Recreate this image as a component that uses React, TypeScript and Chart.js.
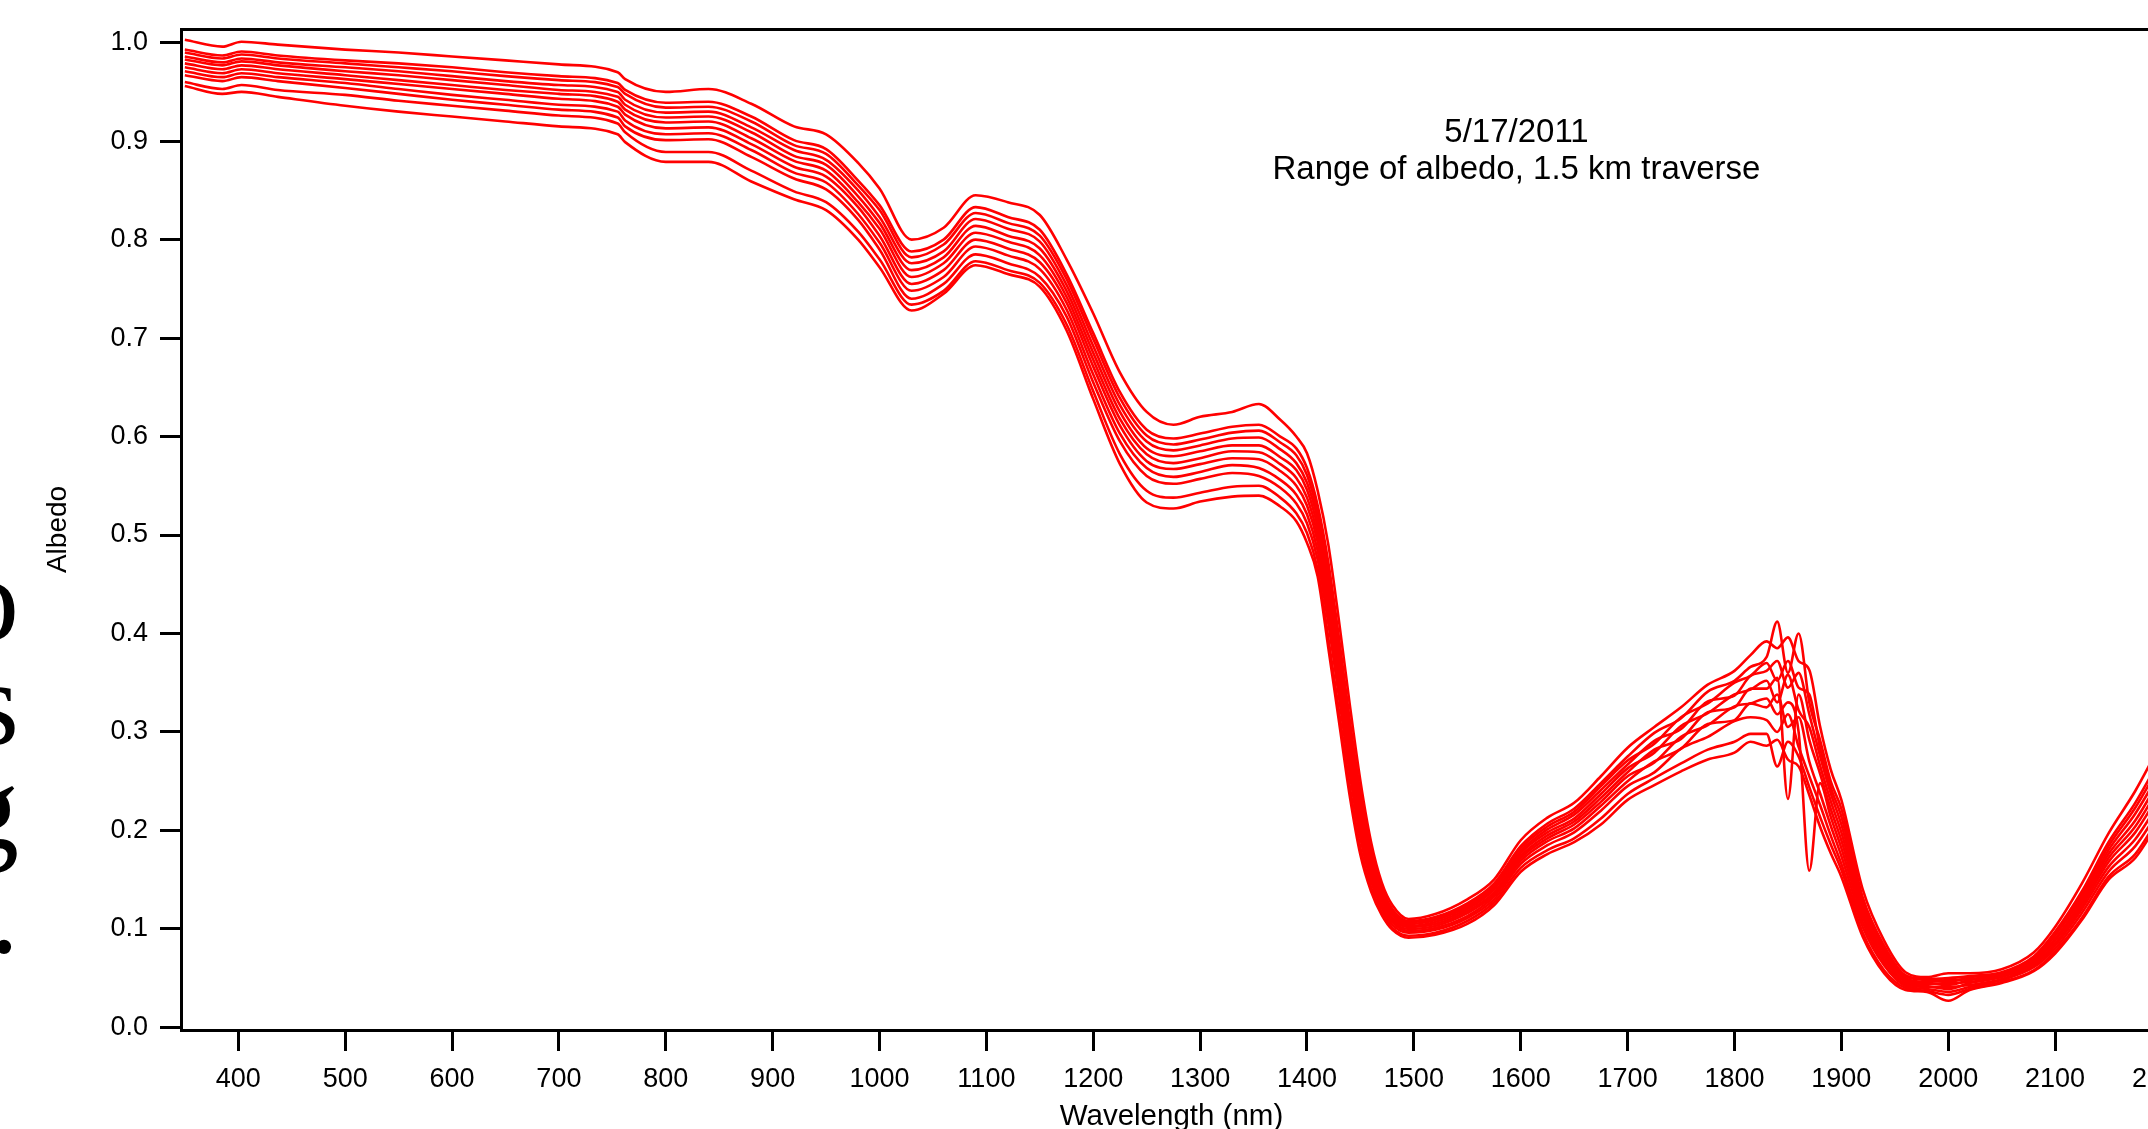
import React, { useEffect, useRef } from 'react';
import { Chart, registerables } from 'chart.js';

Chart.register(...registerables);

// Wavelength grid (nm)
const wavelengths = [
  350, 385, 403, 437, 500, 550, 600, 650, 700,
  755, 762, 800, 840, 880, 920, 950, 980, 1000,
  1030, 1060, 1090, 1120, 1150, 1175, 1200, 1225, 1250, 1275,
  1300, 1330, 1355, 1375, 1390, 1400,
  1410, 1420, 1430, 1440, 1450, 1460, 1470, 1480,
  1495, 1520, 1550, 1575, 1600, 1625, 1650, 1675, 1700,
  1725, 1750, 1775, 1800, 1815,
  1830, 1840, 1850, 1860, 1870, 1880, 1890, 1900,
  1920, 1940, 1960, 1980, 2000, 2020,
  2050, 2080, 2100, 2125, 2150, 2175, 2195,
];

// Albedo spectra along the traverse
const spectrum01 = [
  1.003, 0.996, 1.001, 0.998, 0.993, 0.990, 0.986, 0.982, 0.978,
  0.970, 0.963, 0.950, 0.953, 0.938, 0.915, 0.907, 0.878, 0.852,
  0.800, 0.812, 0.845, 0.838, 0.825, 0.780, 0.725, 0.665, 0.625, 0.612,
  0.620, 0.625, 0.633, 0.617, 0.600, 0.583,
  0.545, 0.490, 0.412, 0.328, 0.250, 0.188, 0.147, 0.124,
  0.110, 0.115, 0.130, 0.150, 0.190, 0.213, 0.228, 0.255, 0.284,
  0.305, 0.325, 0.348, 0.362, 0.378,
  0.392, 0.385, 0.396, 0.372, 0.363, 0.306, 0.262, 0.231,
  0.140, 0.088, 0.056, 0.051, 0.055, 0.055,
  0.059, 0.076, 0.102, 0.146, 0.197, 0.240, 0.280,
];
const spectrum02 = [
  0.993, 0.987, 0.991, 0.987, 0.982, 0.979, 0.975, 0.970, 0.966,
  0.959, 0.952, 0.939, 0.940, 0.925, 0.901, 0.892, 0.860, 0.835,
  0.788, 0.800, 0.833, 0.823, 0.810, 0.765, 0.705, 0.645, 0.607, 0.598,
  0.603, 0.610, 0.612, 0.600, 0.588, 0.568,
  0.530, 0.472, 0.395, 0.312, 0.238, 0.180, 0.142, 0.120,
  0.108, 0.112, 0.126, 0.146, 0.184, 0.207, 0.222, 0.248, 0.275,
  0.299, 0.314, 0.341, 0.352, 0.366,
  0.376, 0.412, 0.360, 0.400, 0.330, 0.292, 0.250, 0.222,
  0.132, 0.083, 0.053, 0.049, 0.050, 0.052,
  0.056, 0.072, 0.097, 0.138, 0.188, 0.228, 0.266,
];
const spectrum03 = [
  0.990, 0.984, 0.988, 0.984, 0.979, 0.975, 0.971, 0.966, 0.962,
  0.955, 0.948, 0.934, 0.935, 0.920, 0.896, 0.887, 0.855, 0.830,
  0.782, 0.795, 0.827, 0.817, 0.804, 0.760, 0.699, 0.639, 0.601, 0.592,
  0.597, 0.604, 0.606, 0.594, 0.581, 0.561,
  0.523, 0.465, 0.388, 0.306, 0.232, 0.176, 0.140, 0.118,
  0.107, 0.110, 0.124, 0.144, 0.182, 0.204, 0.219, 0.245, 0.271,
  0.288, 0.315, 0.329, 0.350, 0.357,
  0.370, 0.352, 0.372, 0.345, 0.338, 0.284, 0.244, 0.214,
  0.128, 0.081, 0.052, 0.048, 0.046, 0.051,
  0.055, 0.071, 0.095, 0.135, 0.184, 0.223, 0.260,
];
const spectrum04 = [
  0.986, 0.980, 0.984, 0.980, 0.975, 0.971, 0.966, 0.961, 0.957,
  0.950, 0.942, 0.929, 0.930, 0.914, 0.891, 0.881, 0.850, 0.823,
  0.776, 0.788, 0.821, 0.811, 0.798, 0.754, 0.692, 0.632, 0.595, 0.586,
  0.591, 0.598, 0.599, 0.587, 0.573, 0.553,
  0.516, 0.456, 0.379, 0.298, 0.226, 0.172, 0.137, 0.116,
  0.105, 0.109, 0.122, 0.142, 0.179, 0.201, 0.216, 0.241, 0.267,
  0.291, 0.303, 0.331, 0.337, 0.357,
  0.362, 0.372, 0.345, 0.360, 0.318, 0.276, 0.238, 0.206,
  0.124, 0.078, 0.050, 0.046, 0.048, 0.049,
  0.054, 0.069, 0.093, 0.132, 0.180, 0.217, 0.253,
];
const spectrum05 = [
  0.983, 0.977, 0.981, 0.977, 0.971, 0.967, 0.962, 0.957, 0.952,
  0.945, 0.937, 0.924, 0.925, 0.909, 0.885, 0.876, 0.844, 0.817,
  0.769, 0.782, 0.814, 0.804, 0.791, 0.748, 0.685, 0.625, 0.588, 0.580,
  0.585, 0.591, 0.591, 0.579, 0.566, 0.546,
  0.508, 0.447, 0.371, 0.290, 0.220, 0.167, 0.134, 0.114,
  0.103, 0.107, 0.120, 0.140, 0.177, 0.198, 0.212, 0.237, 0.263,
  0.279, 0.306, 0.319, 0.338, 0.343,
  0.352, 0.330, 0.358, 0.322, 0.305, 0.266, 0.230, 0.198,
  0.120, 0.075, 0.049, 0.045, 0.043, 0.048,
  0.053, 0.068, 0.090, 0.129, 0.176, 0.210, 0.246,
];
const spectrum06 = [
  0.979, 0.973, 0.977, 0.973, 0.967, 0.962, 0.957, 0.952, 0.948,
  0.940, 0.932, 0.919, 0.920, 0.903, 0.880, 0.870, 0.838, 0.811,
  0.762, 0.776, 0.807, 0.798, 0.784, 0.742, 0.678, 0.618, 0.582, 0.573,
  0.578, 0.585, 0.584, 0.572, 0.558, 0.538,
  0.500, 0.439, 0.363, 0.283, 0.213, 0.163, 0.131, 0.111,
  0.102, 0.105, 0.118, 0.137, 0.174, 0.195, 0.209, 0.233, 0.259,
  0.282, 0.293, 0.320, 0.325, 0.344,
  0.344, 0.355, 0.232, 0.338, 0.292, 0.258, 0.222, 0.190,
  0.116, 0.072, 0.047, 0.044, 0.045, 0.046,
  0.052, 0.066, 0.088, 0.126, 0.172, 0.204, 0.239,
];
const spectrum07 = [
  0.975, 0.969, 0.973, 0.969, 0.963, 0.958, 0.953, 0.948, 0.943,
  0.935, 0.927, 0.913, 0.914, 0.897, 0.874, 0.864, 0.833, 0.804,
  0.755, 0.769, 0.800, 0.791, 0.777, 0.736, 0.671, 0.611, 0.575, 0.567,
  0.572, 0.578, 0.577, 0.565, 0.550, 0.530,
  0.493, 0.430, 0.354, 0.275, 0.207, 0.158, 0.128, 0.109,
  0.100, 0.103, 0.116, 0.135, 0.172, 0.192, 0.206, 0.229, 0.255,
  0.269, 0.295, 0.307, 0.326, 0.329,
  0.334, 0.318, 0.330, 0.300, 0.159, 0.248, 0.214, 0.182,
  0.112, 0.069, 0.046, 0.042, 0.039, 0.045,
  0.051, 0.065, 0.085, 0.123, 0.168, 0.198, 0.232,
];
const spectrum08 = [
  0.971, 0.965, 0.969, 0.965, 0.959, 0.953, 0.947, 0.942, 0.937,
  0.930, 0.921, 0.907, 0.908, 0.891, 0.868, 0.858, 0.826, 0.797,
  0.748, 0.762, 0.793, 0.784, 0.770, 0.729, 0.663, 0.603, 0.568, 0.559,
  0.564, 0.571, 0.568, 0.556, 0.541, 0.521,
  0.484, 0.420, 0.345, 0.267, 0.199, 0.153, 0.124, 0.107,
  0.098, 0.101, 0.113, 0.133, 0.169, 0.189, 0.202, 0.225, 0.250,
  0.270, 0.283, 0.308, 0.312, 0.329,
  0.325, 0.338, 0.305, 0.315, 0.270, 0.238, 0.205, 0.174,
  0.107, 0.066, 0.044, 0.041, 0.041, 0.043,
  0.049, 0.063, 0.083, 0.120, 0.163, 0.191, 0.224,
];
const spectrum09 = [
  0.967, 0.961, 0.965, 0.961, 0.954, 0.948, 0.942, 0.937, 0.932,
  0.924, 0.915, 0.901, 0.902, 0.884, 0.862, 0.851, 0.820, 0.790,
  0.740, 0.755, 0.785, 0.776, 0.762, 0.722, 0.655, 0.595, 0.560, 0.552,
  0.557, 0.563, 0.560, 0.548, 0.532, 0.512,
  0.475, 0.410, 0.335, 0.258, 0.192, 0.148, 0.121, 0.104,
  0.096, 0.099, 0.111, 0.130, 0.166, 0.185, 0.198, 0.220, 0.245,
  0.259, 0.283, 0.295, 0.311, 0.315,
  0.312, 0.300, 0.318, 0.285, 0.255, 0.226, 0.195, 0.166,
  0.102, 0.063, 0.042, 0.039, 0.036, 0.041,
  0.048, 0.061, 0.080, 0.116, 0.158, 0.184, 0.216,
];
const spectrum10 = [
  0.960, 0.953, 0.957, 0.952, 0.947, 0.941, 0.936, 0.931, 0.926,
  0.918, 0.909, 0.889, 0.889, 0.870, 0.849, 0.838, 0.808, 0.780,
  0.734, 0.748, 0.778, 0.769, 0.756, 0.714, 0.646, 0.582, 0.545, 0.538,
  0.543, 0.549, 0.550, 0.538, 0.522, 0.502,
  0.465, 0.395, 0.320, 0.245, 0.182, 0.142, 0.117, 0.101,
  0.093, 0.096, 0.108, 0.127, 0.162, 0.180, 0.192, 0.212, 0.237,
  0.253, 0.268, 0.282, 0.290, 0.298,
  0.298, 0.265, 0.290, 0.275, 0.244, 0.214, 0.186, 0.160,
  0.096, 0.058, 0.040, 0.037, 0.033, 0.039,
  0.046, 0.058, 0.077, 0.111, 0.153, 0.176, 0.209,
];
const spectrum11 = [
  0.956, 0.948, 0.950, 0.945, 0.936, 0.930, 0.925, 0.920, 0.915,
  0.907, 0.899, 0.879, 0.879, 0.859, 0.841, 0.830, 0.800, 0.772,
  0.728, 0.745, 0.774, 0.765, 0.752, 0.708, 0.638, 0.572, 0.533, 0.527,
  0.534, 0.539, 0.540, 0.529, 0.514, 0.492,
  0.458, 0.385, 0.310, 0.235, 0.175, 0.138, 0.114, 0.099,
  0.091, 0.094, 0.105, 0.124, 0.158, 0.176, 0.188, 0.206, 0.231,
  0.246, 0.260, 0.272, 0.279, 0.290,
  0.286, 0.292, 0.272, 0.265, 0.236, 0.204, 0.177, 0.153,
  0.092, 0.055, 0.038, 0.036, 0.027, 0.038,
  0.045, 0.057, 0.075, 0.109, 0.150, 0.172, 0.205,
];

const spectra = [
  spectrum01, spectrum02, spectrum03, spectrum04, spectrum05, spectrum06,
  spectrum07, spectrum08, spectrum09, spectrum10, spectrum11,
];

const xTickValues = [400, 500, 600, 700, 800, 900, 1000, 1100, 1200, 1300, 1400, 1500, 1600, 1700, 1800, 1900, 2000, 2100, 2200];
const yTickValues = [0.0, 0.1, 0.2, 0.3, 0.4, 0.5, 0.6, 0.7, 0.8, 0.9, 1.0];

const noteLines = ['5/17/2011', 'Range of albedo, 1.5 km traverse'];
const strayLetters = ['o', 's', 'g', '.'];

const X_MIN = 346.4;
const X_MAX = 2200;
const Y_MIN = -0.0027;
const Y_MAX = 1.0139;
const NOTE_WAVELENGTH = 1596;
const NOTE_ALBEDO = 0.908;
const NOTE_LINE_GAP = 37;
const FONT = '"Liberation Sans", Arial, Helvetica, sans-serif';

const notePlugin = {
  id: 'noteText',
  afterDatasetsDraw(chart: any) {
    const { ctx, scales } = chart;
    const cx = scales.x.getPixelForValue(NOTE_WAVELENGTH);
    const cy = scales.y.getPixelForValue(NOTE_ALBEDO);
    ctx.save();
    ctx.fillStyle = '#000';
    ctx.font = `33px ${FONT}`;
    ctx.textAlign = 'center';
    ctx.textBaseline = 'middle';
    noteLines.forEach((t, i) => ctx.fillText(t, cx, cy + i * NOTE_LINE_GAP));
    ctx.restore();
  },
};

export default function App() {
  const canvasRef = useRef<HTMLCanvasElement | null>(null);

  useEffect(() => {
    const canvas = canvasRef.current;
    if (!canvas) return;
    Chart.defaults.font.family = FONT;
    const chart = new Chart(canvas, {
      type: 'line',
      data: {
        datasets: spectra.map((s, i) => ({
          label: `Spectrum ${i + 1}`,
          data: wavelengths.map((w, j) => ({ x: w, y: s[j] })),
          borderColor: '#ff0000',
          backgroundColor: '#ff0000',
          borderWidth: 2.6,
          pointRadius: 0,
          fill: false,
          cubicInterpolationMode: 'monotone',
        })),
      },
      options: {
        animation: false,
        responsive: false,
        maintainAspectRatio: false,
        events: [],
        layout: { padding: { left: 0, top: 29, right: 40, bottom: 0 } },
        plugins: {
          legend: { display: false },
          tooltip: { enabled: false },
          title: { display: false },
        },
        scales: {
          x: {
            type: 'linear',
            position: 'bottom',
            min: X_MIN,
            max: X_MAX,
            afterBuildTicks: (s: any) => {
              s.ticks = xTickValues.map((v) => ({ value: v }));
            },
            afterFit: (s: any) => {
              s.height = 130;
            },
            grid: { display: true, drawOnChartArea: false, drawTicks: true, tickLength: 21, color: '#000', lineWidth: 3 },
            border: { display: true, color: '#000', width: 3 },
            ticks: {
              color: '#000',
              font: { family: FONT, size: 27 },
              padding: 12,
              maxRotation: 0,
              autoSkip: false,
              callback: (v: any) => String(v),
            },
            title: {
              display: true,
              text: 'Wavelength (nm)',
              color: '#000',
              font: { family: FONT, size: 29.5 },
              padding: { top: 0, bottom: 25 },
            },
          },
          xTop: {
            type: 'linear',
            position: 'top',
            min: X_MIN,
            max: X_MAX,
            afterFit: (s: any) => {
              s.height = 0;
            },
            grid: { display: false, drawTicks: false },
            border: { display: true, color: '#000', width: 3 },
            ticks: { display: false },
          },
          y: {
            type: 'linear',
            position: 'left',
            min: Y_MIN,
            max: Y_MAX,
            afterBuildTicks: (s: any) => {
              s.ticks = yTickValues.map((v) => ({ value: v }));
            },
            afterFit: (s: any) => {
              s.width = 181;
            },
            grid: { display: true, drawOnChartArea: false, drawTicks: true, tickLength: 21, color: '#000', lineWidth: 3 },
            border: { display: true, color: '#000', width: 3 },
            ticks: {
              color: '#000',
              font: { family: FONT, size: 27 },
              padding: 12,
              autoSkip: false,
              callback: (v: any) => Number(v).toFixed(1),
            },
            title: {
              display: true,
              text: 'Albedo',
              color: '#000',
              font: { family: FONT, size: 28 },
              padding: { top: 41, bottom: 0 },
            },
          },
        },
      } as any,
      plugins: [notePlugin],
    });
    return () => chart.destroy();
  }, []);

  return (
    <div
      style={{
        position: 'fixed',
        left: 0,
        top: 0,
        width: 2148,
        height: 1129,
        overflow: 'hidden',
        background: '#fff',
      }}
    >
      <canvas
        ref={canvasRef}
        width={2204}
        height={1160}
        style={{ position: 'absolute', left: 0, top: 0, width: 2204, height: 1160 }}
      />
      <div
        style={{
          position: 'absolute',
          left: -181,
          top: 548,
          width: 200,
          textAlign: 'right',
          fontFamily: '"Liberation Serif", "Times New Roman", serif',
          fontSize: 120,
          lineHeight: '104px',
          color: '#000',
        }}
      >
        {strayLetters.map((l, i) => (
          <div key={i}>{l}</div>
        ))}
      </div>
    </div>
  );
}
